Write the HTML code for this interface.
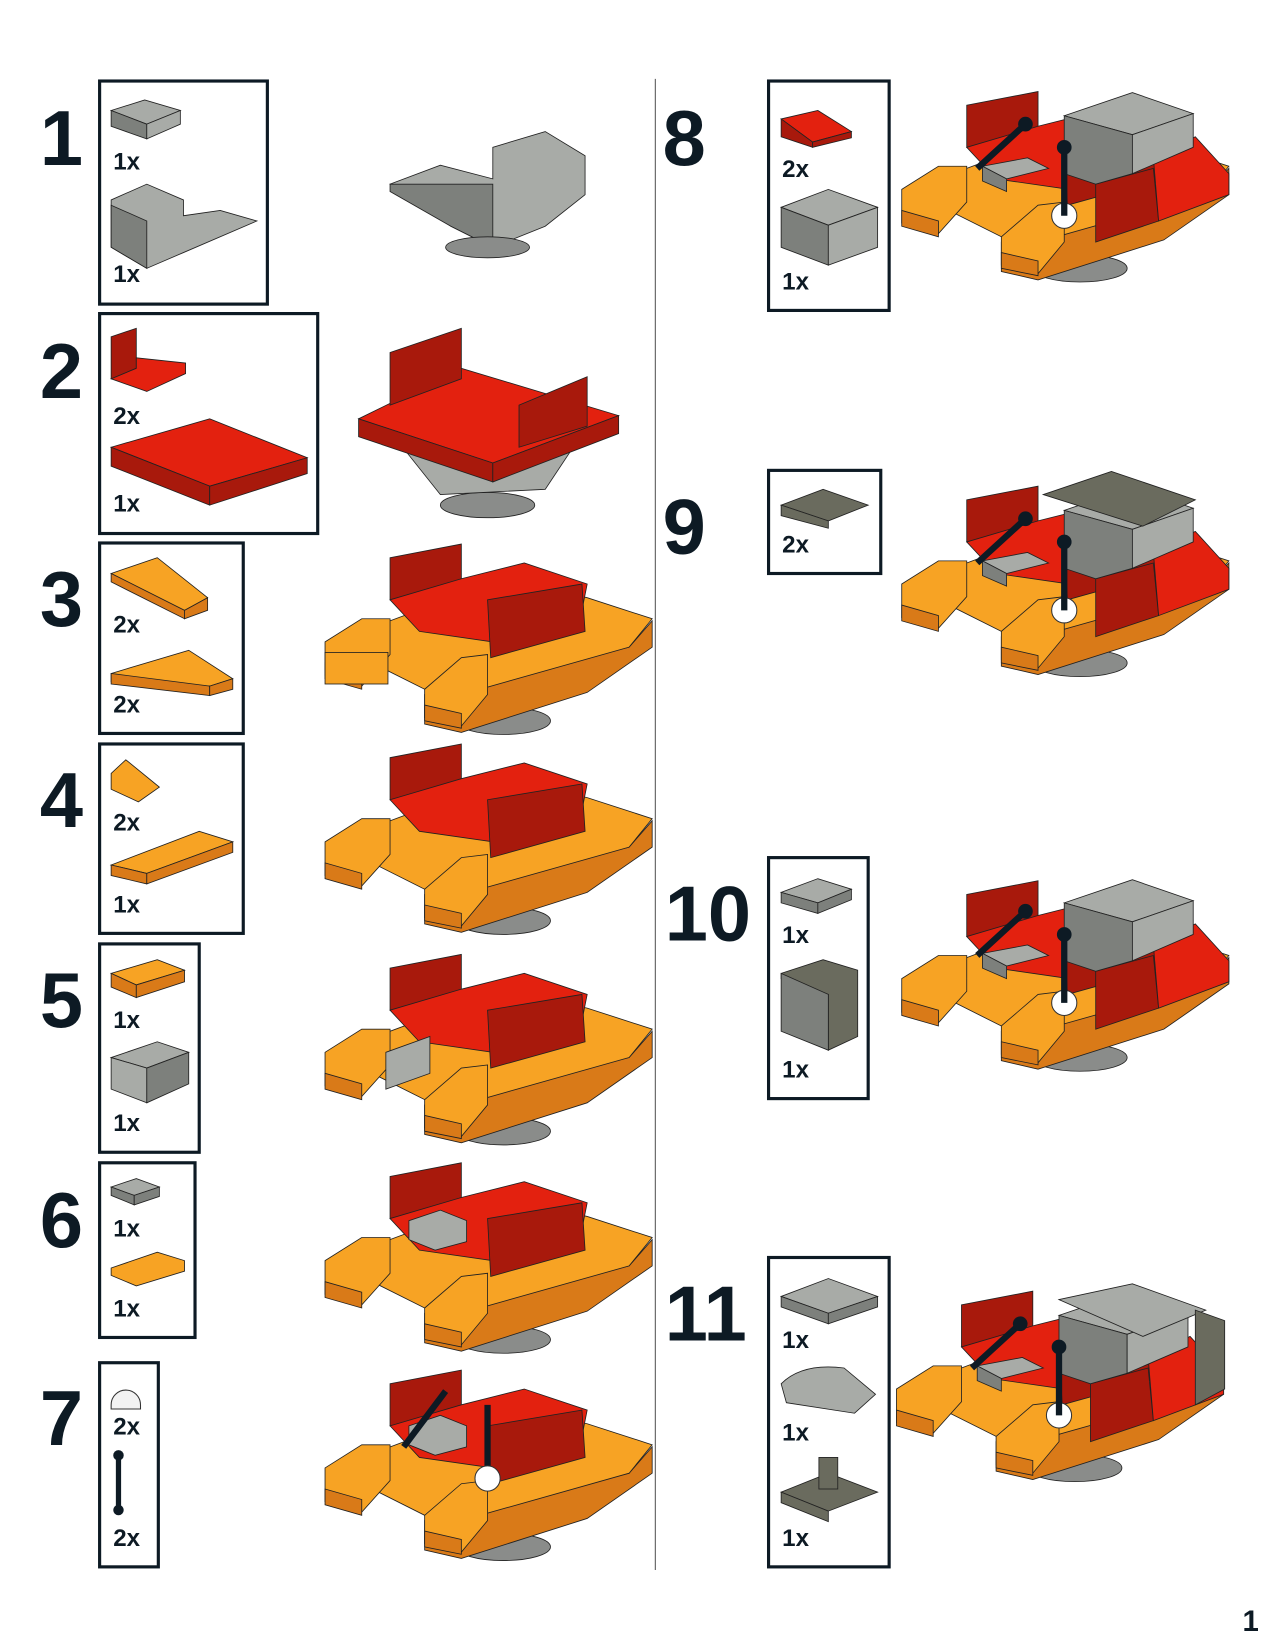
<!DOCTYPE html>
<html><head><meta charset="utf-8"><style>
html,body{margin:0;padding:0;background:#fff}
svg{display:block}
.n{font-family:"Liberation Sans",sans-serif;font-weight:bold;fill:#0d1a24}
.c{font-family:"Liberation Sans",sans-serif;font-weight:bold;font-size:23px;fill:#0d1a24}
.b{fill:none;stroke:#0d1a24;stroke-width:3}
.o{fill:#f7a324;stroke:#222;stroke-width:.8}
.od{fill:#d97a18;stroke:#222;stroke-width:.8}
.r{fill:#e3210f;stroke:#222;stroke-width:.8}
.rd{fill:#a8190c;stroke:#222;stroke-width:.8}
.g{fill:#a8aba7;stroke:#222;stroke-width:.8}
.gd{fill:#7d807c;stroke:#222;stroke-width:.8}
.dg{fill:#6a6b5e;stroke:#222;stroke-width:.8}
</style></head><body>
<svg width="1275" height="1650" viewBox="0 0 1216 1568" preserveAspectRatio="none" xmlns="http://www.w3.org/2000/svg">
<defs>
<g id="boat">
  <ellipse cx="480" cy="875" rx="45" ry="13" fill="#8a8c8a" stroke="#222" stroke-width=".8"/>
  <polygon class="od" points="405,850 600,805 622,780 622,805 560,848 440,886 405,878"/>
  <polygon class="o" points="345,790 480,740 560,758 622,778 600,805 440,850 405,845 345,815"/>
  <polygon class="rd" points="372,760 372,720 440,707 440,745"/>
  <polygon class="r" points="372,760 440,740 500,725 560,745 555,770 470,800 400,790"/>
  <polygon class="rd" points="465,760 555,745 558,790 468,815"/>
  <polygon class="o" points="310,800 345,778 372,778 372,812 345,842 310,832"/>
  <polygon class="od" points="310,820 345,830 345,845 310,835"/>
  <polygon class="o" points="405,845 440,815 465,812 465,850 440,880 405,872"/>
  <polygon class="od" points="405,860 440,868 440,882 405,875"/>
</g>
<g id="top">
  <polygon class="rd" points="1045,175 1100,160 1105,210 1045,230"/>
  <polygon class="r" points="1100,150 1140,130 1172,165 1172,185 1105,210"/>
  <polygon class="g" points="1015,110 1080,88 1138,108 1080,128"/>
  <polygon class="gd" points="1015,110 1080,128 1080,165 1045,175 1015,165"/>
  <polygon class="g" points="1080,128 1138,108 1138,140 1080,165"/>
  <polygon class="g" points="937,158 980,150 1000,160 960,170"/>
  <polygon class="gd" points="937,158 960,170 960,182 937,172"/>
  <line x1="932" y1="160" x2="978" y2="118" stroke="#0d1a24" stroke-width="6"/>
  <circle cx="978" cy="118" r="7" fill="#0d1a24"/>
  <circle cx="1015" cy="205" r="12" fill="#fff" stroke="#333"/>
  <line x1="1015" y1="140" x2="1015" y2="205" stroke="#0d1a24" stroke-width="6"/>
  <circle cx="1015" cy="140" r="7" fill="#0d1a24"/>
</g>
</defs>

<!-- step numbers -->
<text class="n" x="38" y="157" font-size="74">1</text>
<text class="n" x="38" y="378" font-size="74">2</text>
<text class="n" x="38" y="595" font-size="74">3</text>
<text class="n" x="38" y="786" font-size="74">4</text>
<text class="n" x="38" y="976" font-size="74">5</text>
<text class="n" x="38" y="1185" font-size="74">6</text>
<text class="n" x="38" y="1373" font-size="74">7</text>
<text class="n" x="632" y="157" font-size="74">8</text>
<text class="n" x="632" y="526" font-size="74">9</text>
<text class="n" x="634" y="894" font-size="74">10</text>
<text class="n" x="634" y="1274" font-size="74">11</text>
<text class="n" x="1185" y="1550" font-size="28">1</text>

<line x1="625" y1="75" x2="625" y2="1492" stroke="#555" stroke-width="1"/>

<!-- boxes -->
<rect class="b" x="95" y="77" width="160" height="212"/>
<rect class="b" x="95" y="298" width="208" height="209"/>
<rect class="b" x="95" y="516" width="137" height="181"/>
<rect class="b" x="95" y="707" width="137" height="180"/>
<rect class="b" x="95" y="897" width="95" height="198"/>
<rect class="b" x="95" y="1105" width="91" height="166"/>
<rect class="b" x="95" y="1295" width="56" height="194"/>
<rect class="b" x="733" y="77" width="115" height="218"/>
<rect class="b" x="733" y="447" width="107" height="98"/>
<rect class="b" x="733" y="815" width="95" height="229"/>
<rect class="b" x="733" y="1195" width="115" height="294"/>

<!-- counts -->
<text class="c" x="108" y="161">1x</text><text class="c" x="108" y="268">1x</text>
<text class="c" x="108" y="403">2x</text><text class="c" x="108" y="486">1x</text>
<text class="c" x="108" y="601">2x</text><text class="c" x="108" y="677">2x</text>
<text class="c" x="108" y="789">2x</text><text class="c" x="108" y="867">1x</text>
<text class="c" x="108" y="977">1x</text><text class="c" x="108" y="1075">1x</text>
<text class="c" x="108" y="1175">1x</text><text class="c" x="108" y="1251">1x</text>
<text class="c" x="108" y="1363">2x</text><text class="c" x="108" y="1469">2x</text>
<text class="c" x="746" y="168">2x</text><text class="c" x="746" y="275">1x</text>
<text class="c" x="746" y="525">2x</text>
<text class="c" x="746" y="896">1x</text><text class="c" x="746" y="1024">1x</text>
<text class="c" x="746" y="1281">1x</text><text class="c" x="746" y="1369">1x</text><text class="c" x="746" y="1469">1x</text>

<!-- part icons -->
<polygon class="g" points="106,105 138,95 172,105 140,118"/><polygon class="gd" points="106,105 140,118 140,132 106,120"/><polygon class="g" points="140,118 172,105 172,118 140,132"/>
<polygon class="g" points="106,190 140,175 175,190 175,205 210,200 245,210 175,240 140,255 106,235"/><polygon class="gd" points="106,195 140,210 140,255 106,235"/>
<polygon class="rd" points="106,320 130,312 130,350 106,360"/><polygon class="r" points="130,340 177,345 177,355 140,372 106,360 130,350"/>
<polygon class="r" points="106,425 200,398 293,435 200,462"/><polygon class="rd" points="106,425 200,462 200,480 106,443"/><polygon class="rd" points="200,462 293,435 293,450 200,480"/>
<polygon class="o" points="106,545 150,530 198,568 176,580"/><polygon class="od" points="176,580 198,568 198,580 176,588"/><polygon class="od" points="106,545 176,580 176,588 106,553"/>
<polygon class="o" points="106,640 180,618 222,645 200,652 106,648"/><polygon class="od" points="106,640 200,652 200,661 106,650"/><polygon class="od" points="200,652 222,645 222,655 200,661"/>
<polygon class="o" points="106,735 120,722 152,748 132,762 106,750"/>
<polygon class="o" points="106,822 190,790 222,800 140,830"/><polygon class="od" points="106,822 140,830 140,840 106,832"/><polygon class="od" points="140,830 222,800 222,810 140,840"/>
<polygon class="o" points="106,925 150,912 176,922 130,936"/><polygon class="od" points="106,925 130,936 130,948 106,938"/><polygon class="od" points="130,936 176,922 176,933 130,948"/>
<polygon class="g" points="106,1005 150,990 180,1000 140,1015"/><polygon class="g" points="106,1005 140,1015 140,1048 106,1035"/><polygon class="gd" points="140,1015 180,1000 180,1030 140,1048"/>
<polygon class="g" points="106,1128 130,1120 152,1128 128,1136"/><polygon class="gd" points="106,1128 128,1136 128,1145 106,1136"/><polygon class="gd" points="128,1136 152,1128 152,1137 128,1145"/>
<polygon class="o" points="106,1205 150,1190 176,1198 176,1208 130,1222 106,1212"/>
<path d="M106,1335 a14,14 0 0 1 28,0 l0,4 -28,0z" fill="#f2f2f2" stroke="#333"/>
<line x1="113" y1="1383" x2="113" y2="1435" stroke="#0d1a24" stroke-width="5"/><circle cx="113" cy="1383" r="5" fill="#0d1a24"/><circle cx="113" cy="1435" r="5" fill="#0d1a24"/>
<polygon class="r" points="745,113 780,105 812,125 775,135"/><polygon class="rd" points="745,113 775,135 775,140 745,130"/><polygon class="rd" points="775,135 812,125 812,131 775,140"/>
<polygon class="g" points="745,197 790,180 837,197 790,214"/><polygon class="gd" points="745,197 790,214 790,252 745,235"/><polygon class="g" points="790,214 837,197 837,235 790,252"/>
<polygon class="dg" points="745,480 785,465 828,480 790,495"/><polygon class="dg" points="745,480 790,495 790,502 745,490"/>
<polygon class="g" points="745,848 780,835 812,845 780,858"/><polygon class="gd" points="745,848 780,858 780,868 745,858"/><polygon class="gd" points="780,858 812,845 812,855 780,868"/>
<polygon class="dg" points="745,925 785,912 818,922 818,985 790,998 790,945 745,930"/><polygon class="gd" points="745,925 790,945 790,998 745,980"/>
<polygon class="g" points="745,1232 790,1215 837,1232 790,1248"/><polygon class="gd" points="745,1232 790,1248 790,1258 745,1242"/><polygon class="gd" points="790,1248 837,1232 837,1242 790,1258"/>
<path d="M745,1315 q20,-20 60,-15 l30,25 -20,18 -65,-10z" class="g"/>
<polygon class="dg" points="745,1418 790,1400 837,1418 790,1436"/><polygon class="dg" points="745,1418 790,1436 790,1446 745,1428"/><rect x="781" y="1385" width="18" height="30" class="dg"/>

<!-- step 1 model -->
<polygon class="g" points="372,175 420,157 470,170 470,140 520,125 558,148 558,185 520,215 470,235 430,215"/>
<polygon class="gd" points="372,182 430,215 470,235 470,175 372,175"/>
<ellipse cx="465" cy="235" rx="40" ry="10" fill="#8a8c8a" stroke="#222" stroke-width=".8"/>
<!-- step 2 model -->
<ellipse cx="465" cy="480" rx="45" ry="12" fill="#8a8c8a" stroke="#222" stroke-width=".8"/>
<polygon class="g" points="380,420 550,420 520,465 420,470"/>
<polygon class="r" points="342,398 440,350 590,395 470,440"/>
<polygon class="rd" points="342,398 470,440 470,458 342,415"/><polygon class="rd" points="470,440 590,395 590,412 470,458"/>
<polygon class="rd" points="372,335 440,312 440,360 372,385"/><polygon class="rd" points="495,385 560,358 560,405 495,425"/>

<!-- step 3 model -->
<g transform="translate(0,-190)"><use href="#boat"/></g>
<rect x="310" y="620" width="60" height="30" class="o"/>
<!-- steps 4-7 -->
<use href="#boat"/>
<g transform="translate(0,200)"><use href="#boat"/>
<polygon class="g" points="368,1000 410,985 410,1020 368,1035" transform="translate(0,-200)"/></g>
<g transform="translate(0,398)"><use href="#boat"/></g>
<polygon class="g" points="390,1160 420,1150 445,1160 445,1180 415,1188 390,1178"/>
<g transform="translate(0,595)"><use href="#boat"/></g>
<polygon class="g" points="390,1355 420,1345 445,1355 445,1375 415,1383 390,1373"/>
<line x1="385" y1="1375" x2="425" y2="1322" stroke="#0d1a24" stroke-width="6"/>
<line x1="465" y1="1335" x2="465" y2="1405" stroke="#0d1a24" stroke-width="6"/>
<circle cx="465" cy="1405" r="12" fill="#fff" stroke="#333"/>

<!-- right models -->
<g transform="translate(550,-620)"><use href="#boat"/></g><use href="#top"/>
<g transform="translate(550,-245)"><use href="#boat"/></g><g transform="translate(0,375)"><use href="#top"/></g>
<g fill="#6a6b5e" stroke="#222" stroke-width=".8"><polygon points="995,470 1060,448 1140,475 1090,500"/></g>
<g transform="translate(550,130)"><use href="#boat"/></g><g transform="translate(0,748)"><use href="#top"/></g>
<g transform="translate(545,520)"><use href="#boat"/></g><g transform="translate(-5,1140)"><use href="#top"/></g>
<polygon class="g" points="1010,1235 1080,1220 1150,1245 1090,1270"/>
<polygon class="dg" points="1140,1245 1168,1255 1168,1320 1140,1335"/>
</svg>
</body></html>
